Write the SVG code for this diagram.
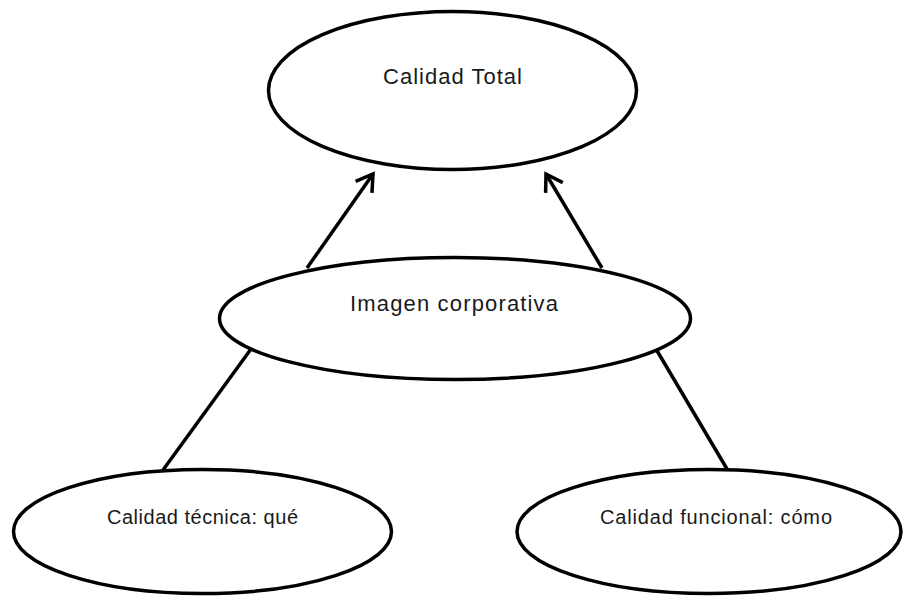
<svg xmlns="http://www.w3.org/2000/svg" width="904" height="597" viewBox="0 0 904 597">
  <style>
    .node { fill: #ffffff; stroke: #000000; stroke-width: 3.5; }
    .label { font-family: "Liberation Sans", Arial, sans-serif; fill: #1a1a1a; text-anchor: middle; }
    .edge { stroke: #000000; stroke-width: 3.5; fill: none; }
  </style>
  <defs>
    <marker id="arrow" markerUnits="userSpaceOnUse" markerWidth="40" markerHeight="40" viewBox="-20 -20 40 40" refX="0" refY="0" orient="auto">
      <path d="M -16 -10 L 0 0 L -16 10" fill="none" stroke="#000000" stroke-width="3.5" stroke-linejoin="miter" stroke-linecap="butt"/>
    </marker>
  </defs>
  <rect width="904" height="597" fill="#ffffff"/>
  <g id="connectors">
    <line class="edge" x1="163" y1="470" x2="251" y2="349"/>
    <line class="edge" x1="727" y1="469" x2="656" y2="349"/>
    <line class="edge" x1="307" y1="268" x2="373" y2="174" marker-end="url(#arrow)"/>
    <line class="edge" x1="602" y1="268" x2="546" y2="174" marker-end="url(#arrow)"/>
  </g>
  <g id="calidad-total">
    <ellipse class="node" cx="452.5" cy="90.5" rx="184" ry="79"/>
    <text class="label" x="452.5" y="84" font-size="22" textLength="139" lengthAdjust="spacing">Calidad Total</text>
  </g>
  <g id="imagen-corporativa">
    <ellipse class="node" cx="455" cy="318.5" rx="235.5" ry="61"/>
    <text class="label" x="454" y="311" font-size="22" textLength="208" lengthAdjust="spacing">Imagen corporativa</text>
  </g>
  <g id="calidad-tecnica">
    <ellipse class="node" cx="202.5" cy="531.5" rx="189" ry="62"/>
    <text class="label" x="202.5" y="524" font-size="20" textLength="191" lengthAdjust="spacing">Calidad técnica: qué</text>
  </g>
  <g id="calidad-funcional">
    <ellipse class="node" cx="709" cy="531.5" rx="192" ry="62"/>
    <text class="label" x="716" y="524" font-size="20" textLength="232" lengthAdjust="spacing">Calidad funcional: cómo</text>
  </g>
</svg>
